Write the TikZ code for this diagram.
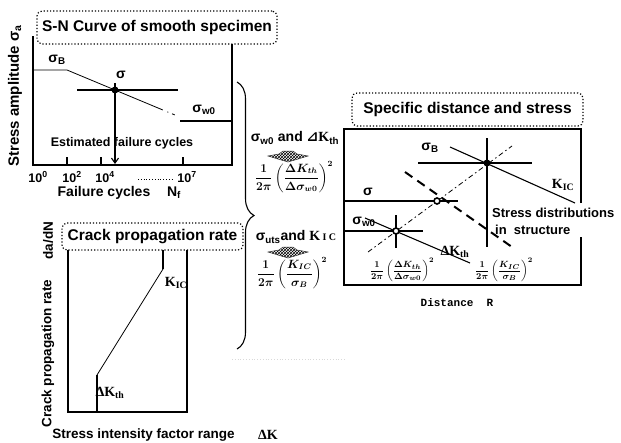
\documentclass[tikz,border=0pt]{standalone}
\usepackage{fontspec}
\usepackage{amsmath}
\setmainfont{Liberation Sans}
\newfontfamily\serifb{Liberation Serif}
\newfontfamily\monob{Liberation Mono}
\newfontfamily\dvs{DejaVu Sans}
\usetikzlibrary{decorations.pathreplacing,patterns,arrows.meta}
\tikzset{
  ln/.style={line width=1.1pt},
  thinln/.style={line width=0.8pt},
  thickln/.style={line width=1.6pt},
  titlebox/.style={draw, dotted, line width=1.2pt, rounded corners=5pt, inner sep=0pt, font=\fontsize{15.5}{18}\selectfont\bfseries},
  lab/.style={inner sep=0pt, font=\fontsize{14}{16}\selectfont\bfseries},
  slab/.style={inner sep=0pt, font=\fontsize{12.5}{15}\selectfont\bfseries},
  klab/.style={inner sep=0pt, font=\serifb\bfseries\fontsize{14}{16}\selectfont},
  frm/.style={inner sep=0pt, font=\fontsize{11.5}{14}\selectfont\boldmath},
  sfrm/.style={inner sep=0pt, font=\fontsize{9.5}{11}\selectfont\boldmath},
  hatchdown/.pic={\filldraw[pattern=crosshatch, draw=black!80, line width=0.5pt] (-20,-1) -- (-9,-3) -- (-5,-6) -- (5,-6) -- (9,-3) -- (20,-1) -- (0,5) -- cycle;},
  bigdot/.style={circle, fill=black, inner sep=0pt, minimum size=7pt},
  ring/.style={circle, draw, line width=1.6pt, fill=white, inner sep=0pt, minimum size=6pt},
}
\begin{document}
\begin{tikzpicture}[x=1pt,y=-1pt]
\useasboundingbox (0,0) rectangle (621,442);

% ---------- S-N panel ----------
\node[titlebox, minimum width=240pt, minimum height=33pt] (sntitle) at (157,27.5) {S-N Curve of smooth specimen};
\draw[ln] (33,36) -- (33,165) -- (232,165) -- (232,44);
\draw[thinln] (33,70) -- (67,70) -- (160,108.8);
\draw[thinln, dash pattern=on 3pt off 5pt on 1pt off 4pt] (160,108.8) -- (175,115);
\draw[ln] (77,90) -- (178,90);
\draw[ln] (180,121) -- (232,121);
\foreach \t in {67,101,183} \draw[ln] (\t,157) -- (\t,165);
\node[bigdot] (snpt) at (115,90) {};
\coordinate (snend) at (115,164);
\draw[ln, -{Straight Barb[length=5pt,width=7pt]}] (115,83) -- (snend);
\node[lab] (sB1) at (57,60) {σ\textsubscript{B}};
\node[lab] (s1) at (121,75) {σ};
\node[lab] (sw1) at (204,110) {σ\textsubscript{w0}};
\node[slab] (est) at (122,143) {Estimated failure cycles};
\node[slab] (t0) at (38,177) {10\textsuperscript{0}};
\node[slab] (t2) at (72,177) {10\textsuperscript{2}};
\node[slab] (t4) at (105,177) {10\textsuperscript{4}};
\node[slab] (t7) at (187,177) {10\textsuperscript{7}};
\draw[dotted, line width=0.8pt] (138,179) -- (173,179);
\node[lab] (fc) at (104,193) {Failure cycles};
\node[lab] (nf) at (174,193) {N\textsubscript{f}};
\node[inner sep=0pt, rotate=90, font=\fontsize{15}{17}\selectfont\bfseries] (ylab1) at (15,96) {Stress amplitude σ\textsubscript{a}};

% ---------- brace ----------
\draw[ln, decorate, decoration={brace, amplitude=17pt}] (237,82) -- (237,349);
\draw[gray!30, dotted, line width=0.8pt] (232,359) -- (345,359);

% ---------- middle ----------
\node[lab] (mid1) at (295,138) {σ\textsubscript{w0} and {\dvs ⊿}{\serifb K}\textsubscript{th}};
\pic at (288,157) {hatchdown};
\node[frm] (f1) at (294,177) {$\displaystyle\frac{1}{2\pi}\left(\frac{\Delta K_{th}}{\Delta\sigma_{w0}}\right)^{2}$};
\node[lab] (mid2) at (296,237) {σ\textsubscript{uts}and {\serifb K}\,{\serifb\fontsize{10}{12}\selectfont I C}};
\pic at (288,253) {hatchdown};
\node[frm] (f2) at (292,273) {$\displaystyle\frac{1}{2\pi}\left(\frac{K_{IC}}{\sigma_{B}}\right)^{2}$};

% ---------- crack panel ----------
\node[titlebox, minimum width=181pt, minimum height=27pt] (crtitle) at (152.5,236.5) {Crack propagation rate};
\draw[ln] (68,250) -- (68,412) -- (187,412) -- (187,250);
\draw[thickln] (163,250) -- (163,269);
\draw[thinln] (163,269) -- (97,375);
\draw[thickln] (97,375) -- (97,412);
\node[klab] (kic1) at (176,283) {K\textsubscript{IC}};
\node[klab] (dk1) at (110,393) {ΔK\textsubscript{th}};
\node[inner sep=0pt, rotate=90, font=\fontsize{13.5}{16}\selectfont\bfseries] (ylab2) at (48,353.5) {Crack propagation rate};
\node[inner sep=0pt, rotate=90, font=\fontsize{13.5}{16}\selectfont\bfseries] (ylab3) at (48,240.5) {da/dN};
\node[inner sep=0pt, font=\fontsize{13.5}{16}\selectfont\bfseries] (xlab2) at (143.5,435) {Stress intensity factor range};
\node[klab] (dk2) at (268,435) {ΔK};

% ---------- right panel ----------
\node[titlebox, minimum width=231pt, minimum height=33pt] (rttitle) at (467.5,109.5) {Specific distance and stress};
\draw[ln] (581,203) -- (581,129) -- (344,129) -- (344,285) -- (581,285) -- (581,237);
\draw[ln] (418,163) -- (532,163);
\draw[thickln] (487,138) -- (487,247);
\draw[ln] (450,147) -- (575,203);
\draw[thinln, dash pattern=on 5pt off 3pt on 1.5pt off 3pt] (368,252) -- (512,146);
\draw[line width=2pt, dash pattern=on 9pt off 6pt] (405,172) -- (512,247);
\draw[ln] (344,201) -- (458,201);
\draw[ln] (344,231) -- (423,231);
\draw[thickln] (396,215) -- (396,248);
\draw[ln] (365,218) -- (470,263);
\node[bigdot] (pB) at (487,163) {};
\node[ring] (pS) at (437,201) {};
\node[ring] (pW) at (396,231) {};
\node[lab] (sB2) at (430,148) {σ\textsubscript{B}};
\node[lab] (s2) at (368,192) {σ};
\node[lab] (sw2) at (364,222) {σ\textsubscript{w0}};
\node[klab] (kic2) at (563,185) {K\textsubscript{IC}};
\node[klab] (dk3) at (455,252) {ΔK\textsubscript{th}};
\node[inner sep=0pt, anchor=west, font=\fontsize{13}{15}\selectfont\bfseries] (sd1) at (492,213) {Stress distributions};
\node[inner sep=0pt, anchor=west, font=\fontsize{13}{15}\selectfont\bfseries] (sd2) at (495,230) {in\ \ structure};
\node[sfrm] (f3) at (402,270) {$\displaystyle\frac{1}{2\pi}\left(\frac{\Delta K_{th}}{\Delta\sigma_{w0}}\right)^{2}$};
\node[sfrm] (f4) at (504,270) {$\displaystyle\frac{1}{2\pi}\left(\frac{K_{IC}}{\sigma_{B}}\right)^{2}$};
\node[inner sep=0pt, font=\monob\bfseries\fontsize{11}{13}\selectfont] (dist) at (457,303) {Distance\ \ R};
\end{tikzpicture}
\end{document}
